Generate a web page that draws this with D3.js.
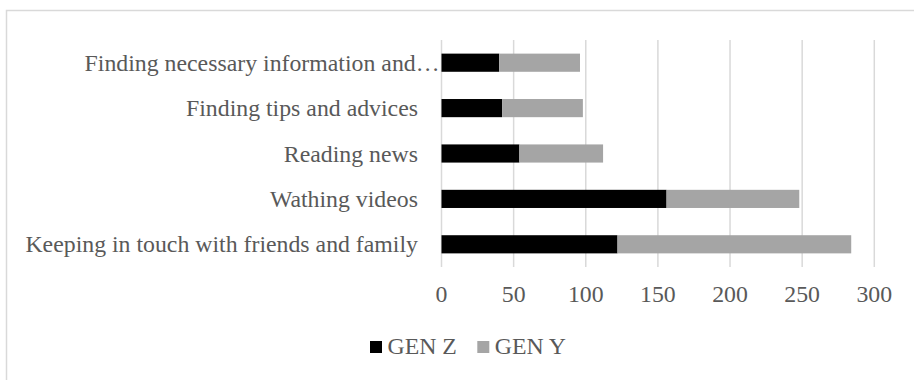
<!DOCTYPE html>
<html>
<head>
<meta charset="utf-8">
<script src="https://cdn.jsdelivr.net/npm/d3@7/dist/d3.min.js"></script>
<style>
  html, body { margin: 0; padding: 0; background: #fff; }
  svg { display: block; }
  text { font-family: "Liberation Serif", "Times New Roman", serif; fill: #595959; }
</style>
</head>
<body>
<svg id="chart" width="914" height="380"></svg>
<script>
// Online activities by generation (top to bottom as drawn)
const categories = [
  "Finding necessary information and…",
  "Finding tips and advices",
  "Reading news",
  "Wathing videos",
  "Keeping in touch with friends and family"
];
const genZ = [40, 42, 54, 156, 122];
const genY = [56, 56, 58, 92, 162];
const seriesNames = ["GEN Z", "GEN Y"];
const seriesColors = ["#000000", "#a5a5a5"];
const xTicks = [0, 50, 100, 150, 200, 250, 300];

const fontSize = 23.8;
const svg = d3.select("#chart");

// Outer frame
svg.append("rect")
  .attr("x", 6.5).attr("y", 10.5)
  .attr("width", 960).attr("height", 420)
  .attr("fill", "none").attr("stroke", "#d9d9d9").attr("stroke-width", 1.5);

const x = d3.scaleLinear().domain([0, 300]).range([441.5, 874.3]);
const y = d3.scaleBand().domain(categories).range([40, 267]).paddingInner(0.6).paddingOuter(0.3);

// Vertical gridlines
svg.append("g").selectAll("line").data(xTicks).join("line")
  .attr("x1", d => x(d)).attr("x2", d => x(d))
  .attr("y1", 40).attr("y2", 267)
  .attr("stroke", "#d9d9d9").attr("stroke-width", 1.5);

// Stacked bars
const rows = categories.map((c, i) => ({ cat: c, z: genZ[i], y: genY[i] }));
const stack = d3.stack().keys(["z", "y"])(rows);
svg.append("g").selectAll("g").data(stack).join("g")
  .attr("fill", (d, i) => seriesColors[i])
  .selectAll("rect").data(d => d).join("rect")
  .attr("x", d => x(d[0]))
  .attr("width", d => x(d[1]) - x(d[0]))
  .attr("y", d => y(d.data.cat))
  .attr("height", y.bandwidth());

// Category labels (a truncated label runs up to the axis)
svg.append("g").selectAll("text").data(categories).join("text")
  .attr("x", d => d.endsWith("…") ? 439.5 : 418)
  .attr("y", d => y(d) + y.bandwidth() / 2)
  .attr("dy", "0.34em").attr("text-anchor", "end")
  .attr("font-size", fontSize)
  .text(d => d);

// X tick labels
svg.append("g").selectAll("text").data(xTicks).join("text")
  .attr("x", d => x(d)).attr("y", 302)
  .attr("text-anchor", "middle").attr("font-size", fontSize)
  .text(d => d);

// Legend
const legend = svg.append("g");
const legendX = [370, 477.3];
seriesNames.forEach((n, i) => {
  legend.append("rect").attr("x", legendX[i]).attr("y", 341)
    .attr("width", 12).attr("height", 12).attr("fill", seriesColors[i]);
  legend.append("text").attr("x", legendX[i] + 17.5).attr("y", 354.3)
    .attr("font-size", fontSize).text(n);
});
</script>
</body>
</html>
